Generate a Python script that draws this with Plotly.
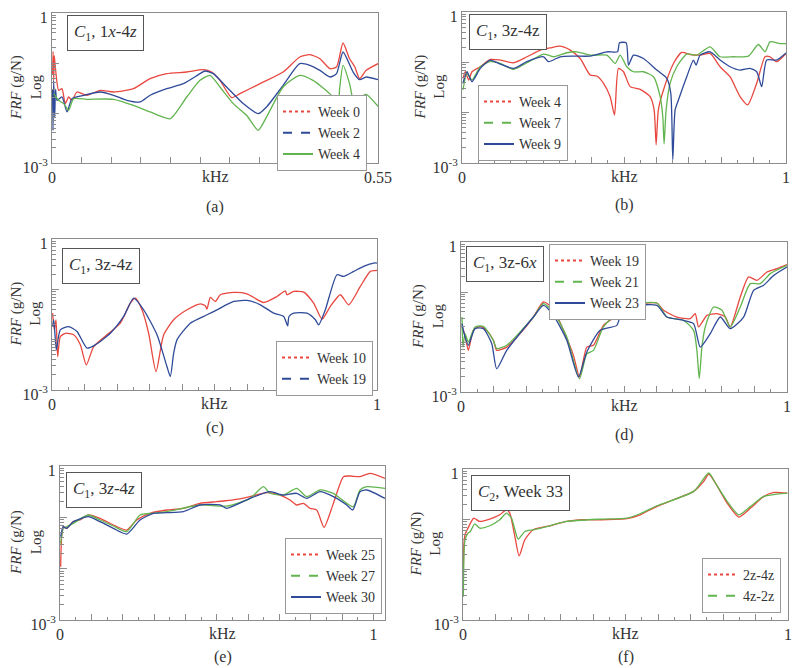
import plotly.graph_objects as go

# ---------------- data (frequency in kHz, FRF in g/N) ----------------
# (a) C1, 1x-4z
a_f_w0 = [0.001, 0.0018, 0.0028, 0.0038, 0.0056, 0.0112, 0.0168, 0.0224, 0.0281, 0.0337, 0.0421, 0.0589, 0.0814,
          0.1038, 0.1375, 0.1655, 0.1936, 0.2273, 0.2554, 0.2694, 0.2834, 0.303, 0.317, 0.351, 0.390, 0.418,
          0.435, 0.452, 0.469, 0.480, 0.491, 0.502, 0.511, 0.519, 0.530, 0.55]
a_v_w0 = [0.06, 0.17, 0.045, 0.14, 0.083, 0.0284, 0.0307, 0.0154, 0.0209, 0.0179, 0.0263, 0.0226, 0.0284,
          0.0263, 0.0307, 0.0486, 0.0612, 0.066, 0.0736, 0.066, 0.045, 0.0203, 0.0244, 0.0386, 0.066, 0.132,
          0.147, 0.122, 0.077, 0.083, 0.251, 0.122, 0.083, 0.0486, 0.0713, 0.097]
a_f_w2 = [0.001, 0.0017, 0.0028, 0.0045, 0.006, 0.0084, 0.0168, 0.0253, 0.0337, 0.0533, 0.0814, 0.1038, 0.1262,
          0.1487, 0.1655, 0.1936, 0.2216, 0.2497, 0.2581, 0.2721, 0.2946, 0.3226, 0.3479, 0.3619, 0.390, 0.418,
          0.435, 0.452, 0.469, 0.480, 0.491, 0.508, 0.519, 0.530, 0.55]
a_v_w2 = [0.03, 0.0045, 0.045, 0.0083, 0.03, 0.0179, 0.0209, 0.0105, 0.0194, 0.0226, 0.0263, 0.0226, 0.0179,
          0.0166, 0.0226, 0.0307, 0.0386, 0.0612, 0.0692, 0.0612, 0.0331, 0.0154, 0.0097, 0.0132, 0.0357, 0.097,
          0.0898, 0.0713, 0.0525, 0.0612, 0.166, 0.066, 0.0464, 0.0525, 0.0464]
a_f_w4 = [0.0028, 0.0112, 0.0196, 0.0281, 0.0365, 0.0589, 0.1038, 0.1375, 0.1655, 0.1992, 0.2273, 0.2497, 0.2666,
          0.2834, 0.3058, 0.3283, 0.3479, 0.3619, 0.390, 0.418, 0.4404, 0.4685, 0.4825, 0.4853, 0.491, 0.502,
          0.513, 0.522, 0.530, 0.55]
a_v_w4 = [0.0244, 0.0179, 0.0154, 0.0113, 0.0194, 0.0188, 0.0188, 0.0142, 0.0105, 0.0077, 0.0209, 0.045, 0.0567,
          0.0331, 0.0154, 0.009, 0.0045, 0.0083, 0.0331, 0.0567, 0.045, 0.0244, 0.0154, 0.0307, 0.0898, 0.0386,
          0.0097, 0.0209, 0.0236, 0.0136]

# (b) C1, 3z-4z
b_f_w4 = [0.003, 0.0103, 0.0206, 0.0308, 0.0565, 0.0874, 0.1182, 0.1593, 0.2004, 0.2415, 0.2724, 0.3032, 0.334,
          0.3649, 0.3957, 0.4162, 0.4368, 0.4573, 0.4707, 0.483, 0.4985, 0.519, 0.5498, 0.5807, 0.593, 0.5992,
          0.606, 0.6218, 0.6526, 0.6783, 0.704, 0.7348, 0.7657, 0.7965, 0.8273, 0.8582, 0.8818, 0.9096, 0.9353,
          0.9507, 0.9712, 1.0]
b_v_w4 = [0.048, 0.065, 0.0445, 0.065, 0.0817, 0.114, 0.111, 0.098, 0.129, 0.175, 0.194, 0.209, 0.175,
          0.119, 0.056, 0.0535, 0.0383, 0.0208, 0.009, 0.0757, 0.065, 0.0329, 0.0291, 0.0208, 0.0114, 0.0023,
          0.0114, 0.0282, 0.095, 0.157, 0.143, 0.139, 0.15, 0.0817, 0.0518, 0.0208, 0.0143, 0.0383, 0.129,
          0.129, 0.103, 0.15]
b_f_w7 = [0.003, 0.0154, 0.0308, 0.0565, 0.0874, 0.1182, 0.1593, 0.2004, 0.2518, 0.2826, 0.3237, 0.3546, 0.3957,
          0.4471, 0.4728, 0.4882, 0.5087, 0.5293, 0.5601, 0.591, 0.6115, 0.6197, 0.6238, 0.63, 0.6423, 0.6629,
          0.6937, 0.7246, 0.7657, 0.7965, 0.8376, 0.8839, 0.9147, 0.9353, 0.9507, 0.9815, 1.0]
b_v_w7 = [0.0282, 0.0603, 0.0445, 0.0817, 0.103, 0.095, 0.0724, 0.098, 0.146, 0.129, 0.155, 0.162, 0.139,
          0.139, 0.095, 0.139, 0.0817, 0.065, 0.065, 0.0518, 0.0208, 0.0084, 0.0024, 0.0114, 0.0383, 0.0817,
          0.146, 0.139, 0.203, 0.129, 0.129, 0.133, 0.226, 0.162, 0.255, 0.236, 0.236]
b_f_w9 = [0.003, 0.0154, 0.0308, 0.0565, 0.0874, 0.1182, 0.1593, 0.2004, 0.2518, 0.2672, 0.3032, 0.3443, 0.3957,
          0.4471, 0.48, 0.4861, 0.5067, 0.5139, 0.5293, 0.5601, 0.6012, 0.6321, 0.6444, 0.6506, 0.6578, 0.668,
          0.6937, 0.7143, 0.7225, 0.7348, 0.7657, 0.7965, 0.8273, 0.8582, 0.889, 0.9096, 0.925, 0.9404, 0.9712, 1.0]
b_v_w9 = [0.0383, 0.065, 0.0413, 0.0757, 0.111, 0.092, 0.0757, 0.103, 0.129, 0.103, 0.129, 0.133, 0.133,
          0.162, 0.162, 0.244, 0.244, 0.088, 0.139, 0.119, 0.0702, 0.048, 0.0243, 0.00117, 0.0114, 0.0179,
          0.0518, 0.111, 0.088, 0.139, 0.162, 0.111, 0.0817, 0.0702, 0.0757, 0.065, 0.0329, 0.111, 0.111, 0.154]

# (c) C1, 3z-4z
c_f_w10 = [0.002, 0.0072, 0.0123, 0.0174, 0.0256, 0.041, 0.0667, 0.0872, 0.1056, 0.1282, 0.1692, 0.2103, 0.241,
           0.2564, 0.2769, 0.2974, 0.32, 0.3436, 0.3744, 0.4154, 0.4564, 0.4718, 0.4769, 0.4872, 0.5026, 0.5179,
           0.559, 0.6, 0.6513, 0.6923, 0.7179, 0.7231, 0.7436, 0.7744, 0.8051, 0.8308, 0.8564, 0.8872, 0.9128,
           0.9487, 0.9795, 1.0]
c_v_w10 = [0.0336, 0.0157, 0.0248, 0.0046, 0.0115, 0.0134, 0.0125, 0.0079, 0.00315, 0.0073, 0.0125, 0.0213, 0.0532,
           0.0668, 0.0392, 0.0134, 0.00232, 0.0125, 0.0248, 0.0392, 0.0516, 0.0471, 0.0404, 0.069, 0.0574, 0.078,
           0.0867, 0.0816, 0.0548, 0.0722, 0.0936, 0.078, 0.0908, 0.088, 0.0532, 0.0255, 0.0457, 0.078, 0.0493,
           0.114, 0.227, 0.238]
c_f_w19 = [0.002, 0.0051, 0.0082, 0.0133, 0.0256, 0.0513, 0.0769, 0.1077, 0.1333, 0.1795, 0.2205, 0.2513, 0.2821,
           0.3231, 0.3538, 0.3641, 0.3744, 0.3846, 0.4256, 0.4769, 0.5077, 0.559, 0.6, 0.641, 0.6821, 0.7128,
           0.7251, 0.7292, 0.7436, 0.7846, 0.8103, 0.8205, 0.841, 0.8769, 0.8974, 0.9282, 0.959, 0.9897, 1.0]
c_v_w19 = [0.0182, 0.0248, 0.0157, 0.0063, 0.0157, 0.0182, 0.0145, 0.0068, 0.0079, 0.0134, 0.0289, 0.0668, 0.0392,
           0.0125, 0.0029, 0.00185, 0.0054, 0.0099, 0.0213, 0.0312, 0.0392, 0.0574, 0.0601, 0.0493, 0.0336, 0.0289,
           0.0188, 0.0289, 0.0336, 0.0336, 0.0248, 0.0197, 0.0392, 0.195, 0.181, 0.227, 0.286, 0.333, 0.333]

# (d) C1, 3z-6x
d_f_w19 = [0.0031, 0.0123, 0.0225, 0.0379, 0.0583, 0.0788, 0.0993, 0.1095, 0.1402, 0.1812, 0.2221, 0.2528, 0.2835,
           0.3142, 0.3449, 0.3634, 0.3859, 0.4063, 0.437, 0.478, 0.5087, 0.5496, 0.6008, 0.6213, 0.6622, 0.7032,
           0.7185, 0.7288, 0.7544, 0.7851, 0.8106, 0.826, 0.8567, 0.8823, 0.9079, 0.9386, 0.9693, 1.0]
d_v_w19 = [0.02, 0.0136, 0.0068, 0.0171, 0.0206, 0.0171, 0.0108, 0.0068, 0.0079, 0.0147, 0.0316, 0.0631, 0.0464,
           0.0171, 0.0054, 0.002, 0.0079, 0.0086, 0.0215, 0.0341, 0.0541, 0.0585, 0.0603, 0.043, 0.0316, 0.0293,
           0.0369, 0.02, 0.0341, 0.0369, 0.0316, 0.02, 0.0794, 0.2, 0.171, 0.251, 0.293, 0.352]
d_f_w21 = [0.0031, 0.006, 0.0123, 0.0225, 0.043, 0.0686, 0.0993, 0.1095, 0.1402, 0.2221, 0.2528, 0.2835, 0.3245,
           0.3634, 0.3859, 0.4063, 0.437, 0.4882, 0.5087, 0.5496, 0.6008, 0.6315, 0.6827, 0.7134, 0.7236, 0.7308,
           0.739, 0.7492, 0.7748, 0.8004, 0.826, 0.8567, 0.8874, 0.9181, 0.9488, 1.0]
d_v_w21 = [0.0316, 0.0079, 0.0147, 0.01, 0.02, 0.0206, 0.0108, 0.0074, 0.0086, 0.0316, 0.0585, 0.0398, 0.0126,
           0.00185, 0.0058, 0.0068, 0.02, 0.043, 0.0541, 0.0603, 0.0603, 0.0316, 0.0271, 0.0171, 0.0068, 0.00185,
           0.0079, 0.02, 0.0501, 0.043, 0.02, 0.0501, 0.147, 0.147, 0.233, 0.341]
d_f_w23 = [0.0031, 0.0123, 0.0225, 0.043, 0.0686, 0.0942, 0.1095, 0.1402, 0.2221, 0.2528, 0.2835, 0.3245, 0.3603,
           0.3859, 0.4268, 0.478, 0.4882, 0.5292, 0.6008, 0.6315, 0.6827, 0.7134, 0.7339, 0.7646, 0.7953, 0.826,
           0.8669, 0.8976, 0.9283, 0.9591, 1.0]
d_v_w23 = [0.0233, 0.0126, 0.0086, 0.0185, 0.0185, 0.0093, 0.0029, 0.0068, 0.0316, 0.0541, 0.0341, 0.0108, 0.002,
           0.0063, 0.0171, 0.0215, 0.0316, 0.0517, 0.0541, 0.0316, 0.0271, 0.0233, 0.0079, 0.0147, 0.0316, 0.0185,
           0.0316, 0.108, 0.136, 0.215, 0.316]

# (e) C1, 3z-4z
e_f_w25 = [0.0021, 0.0053, 0.0106, 0.0213, 0.0426, 0.0638, 0.0904, 0.1277, 0.1702, 0.2128, 0.2447, 0.2872, 0.3404,
           0.3936, 0.4468, 0.5, 0.5532, 0.6064, 0.6596, 0.7021, 0.734, 0.7553, 0.7766, 0.7979, 0.8191, 0.8426,
           0.8723, 0.9043, 0.9255, 0.9574, 0.9894, 1.037]
e_v_w25 = [0.0109, 0.042, 0.0658, 0.061, 0.0824, 0.0887, 0.111, 0.0956, 0.0709, 0.0566, 0.0887, 0.12, 0.139,
           0.15, 0.187, 0.202, 0.218, 0.253, 0.303, 0.272, 0.218, 0.174, 0.187, 0.15, 0.139, 0.0638,
           0.187, 0.62, 0.638, 0.62, 0.72, 0.575]
e_f_w27 = [0.0021, 0.0106, 0.0213, 0.0426, 0.0904, 0.1277, 0.1702, 0.2128, 0.2553, 0.2979, 0.3404, 0.4468, 0.5319,
           0.6064, 0.6489, 0.6702, 0.7128, 0.7553, 0.7872, 0.8298, 0.8723, 0.9149, 0.9362, 0.9574, 0.9787, 1.037]
e_v_w27 = [0.0312, 0.061, 0.0658, 0.0764, 0.111, 0.0887, 0.0678, 0.0526, 0.111, 0.12, 0.129, 0.174, 0.166,
           0.234, 0.396, 0.294, 0.272, 0.367, 0.253, 0.341, 0.294, 0.187, 0.161, 0.341, 0.396, 0.367]
e_f_w30 = [0.0021, 0.0106, 0.0213, 0.0426, 0.0904, 0.1277, 0.1702, 0.2128, 0.2553, 0.2979, 0.3404, 0.3936, 0.4468,
           0.5106, 0.5319, 0.6064, 0.6702, 0.7128, 0.7553, 0.7872, 0.8298, 0.8723, 0.9149, 0.934, 0.9574, 0.9787, 1.037]
e_v_w30 = [0.042, 0.0658, 0.061, 0.0824, 0.103, 0.0824, 0.061, 0.0473, 0.0887, 0.12, 0.123, 0.129, 0.174,
           0.174, 0.15, 0.234, 0.316, 0.272, 0.294, 0.234, 0.316, 0.253, 0.174, 0.139, 0.316, 0.341, 0.234]

# (f) C2, Week 33
f_f_24 = [0.001, 0.0031, 0.0062, 0.0154, 0.0257, 0.0329, 0.0514, 0.0823, 0.1132, 0.1337, 0.144, 0.1595, 0.1728,
          0.1903, 0.216, 0.2675, 0.3189, 0.3704, 0.4218, 0.5041, 0.5453, 0.5967, 0.6481, 0.7099, 0.7407, 0.7562,
          0.7767, 0.8128, 0.8488, 0.8848, 0.9259, 0.9568, 0.9979]
f_v_24 = [0.0085, 0.0336, 0.0493, 0.0669, 0.0908, 0.106, 0.0908, 0.101, 0.123, 0.155, 0.133, 0.0457, 0.0188,
          0.0392, 0.062, 0.0745, 0.0908, 0.098, 0.098, 0.103, 0.123, 0.181, 0.245, 0.359, 0.568, 0.795,
          0.526, 0.21, 0.111, 0.167, 0.286, 0.343, 0.333]
f_f_42 = [0.001, 0.0031, 0.0062, 0.0154, 0.0226, 0.036, 0.0514, 0.0823, 0.1132, 0.1337, 0.1492, 0.1698, 0.1903,
          0.216, 0.2675, 0.3189, 0.4218, 0.5041, 0.5453, 0.5967, 0.7099, 0.7562, 0.7767, 0.8128, 0.8488, 0.8848,
          0.9259, 0.9979]
f_v_42 = [0.0029, 0.0213, 0.0392, 0.0532, 0.0574, 0.0816, 0.0669, 0.0745, 0.098, 0.133, 0.106, 0.0404, 0.0574,
          0.062, 0.0745, 0.0908, 0.101, 0.106, 0.129, 0.186, 0.359, 0.833, 0.526, 0.227, 0.123, 0.181,
          0.286, 0.333]

# tick labels
x_ticks_a = [0, 0.05, 0.1, 0.15, 0.2, 0.25, 0.3, 0.35, 0.4, 0.45, 0.5, 0.55]
x_ticks_1 = [0, 0.1, 0.2, 0.3, 0.4, 0.5, 0.6, 0.7, 0.8, 0.9, 1.0]
x_minor_1 = [0.05, 0.15, 0.25, 0.35, 0.45, 0.55, 0.65, 0.75, 0.85, 0.95]
y_ticks = [1e-3, 1e-2, 1e-1, 1]
y_ticktext = ["10<sup>-3</sup>", "", "", "1"]
y_minor = [m * d for d in (1e-3, 1e-2, 1e-1) for m in range(2, 10)]

# ---------------- styling ----------------
RED = "#e8483f"
BLUE = "#2f4a98"
GREEN = "#62b44f"
AX = "#8c8c8c"
TXT = "#333333"
SERIF = "Liberation Serif"
OFF = 8                      # page body margin offset
W, H = 800 - OFF, 668 - OFF


def px_x(p):
    return (p - OFF) / W


def px_y(p):
    return 1 - (p - OFF) / H


fig = go.Figure()

panels = [
    dict(k=1, x=(52, 378), y=(13, 163), xmax=0.55, end="0.55", box="<i>C</i><sub>1</sub>, 1<i>x</i>-4<i>z</i>",
         boxpos=(67, 15), leg=(277, 95), yts=-26, cap="(a)", capy=44,
         curves=[(a_f_w0, a_v_w0, RED, "Week 0", "dot"), (a_f_w2, a_v_w2, BLUE, "Week 2", "dash"),
                 (a_f_w4, a_v_w4, GREEN, "Week 4", "solid")]),
    dict(k=2, x=(462, 786), y=(12, 163), xmax=1.0, end="1", box="<i>C</i><sub>1</sub>, 3z-4z",
         boxpos=(469, 14), leg=(478, 85), yts=-33, cap="(b)", capy=42,
         curves=[(b_f_w4, b_v_w4, RED, "Week 4", "dot"), (b_f_w7, b_v_w7, GREEN, "Week 7", "dash"),
                 (b_f_w9, b_v_w9, BLUE, "Week 9", "solid")]),
    dict(k=3, x=(52, 377), y=(239, 390), xmax=1.0, end="1", box="<i>C</i><sub>1</sub>, 3z-4z",
         boxpos=(62, 248), leg=(276, 341), yts=-26, cap="(c)", capy=38,
         curves=[(c_f_w10, c_v_w10, RED, "Week 10", "dot"), (c_f_w19, c_v_w19, BLUE, "Week 19", "dash")]),
    dict(k=4, x=(461, 787), y=(242, 392), xmax=1.0, end="1", box="<i>C</i><sub>1</sub>, 3z-6<i>x</i>",
         boxpos=(466, 246), leg=(549, 244), yts=-33, cap="(d)", capy=43,
         curves=[(d_f_w19, d_v_w19, RED, "Week 19", "dot"), (d_f_w21, d_v_w21, GREEN, "Week 21", "dash"),
                 (d_f_w23, d_v_w23, BLUE, "Week 23", "solid")]),
    dict(k=5, x=(60, 385), y=(466, 620), xmax=1.037, end="1", box="<i>C</i><sub>1</sub>, 3<i>z</i>-4<i>z</i>",
         boxpos=(66, 472), leg=(285, 538), yts=-34, cap="(e)", capy=37,
         curves=[(e_f_w25, e_v_w25, RED, "Week 25", "dot"), (e_f_w27, e_v_w27, GREEN, "Week 27", "dash"),
                 (e_f_w30, e_v_w30, BLUE, "Week 30", "solid")]),
    dict(k=6, x=(463, 788), y=(469, 620), xmax=1.0, end="1", box="<i>C</i><sub>2</sub>, Week 33",
         boxpos=(471, 475), leg=(702, 558), yts=-38, cap="(f)", capy=37,
         curves=[(f_f_24, f_v_24, RED, "2z-4z", "dot"), (f_f_42, f_v_42, GREEN, "4z-2z", "dash")]),
]

annotations = []
layout_axes = {}
legends = {}

for p in panels:
    k = p["k"]
    xa = "x" if k == 1 else f"x{k}"
    ya = "y" if k == 1 else f"y{k}"
    lg = "legend" if k == 1 else f"legend{k}"

    for fx, fv, col, name, dash in p["curves"]:
        fig.add_trace(go.Scatter(x=fx, y=fv, mode="lines", xaxis=xa, yaxis=ya,
                                 line=dict(color=col, width=1.3, shape="spline", smoothing=0.6),
                                 showlegend=False, hoverinfo="skip"))
    for fx, fv, col, name, dash in p["curves"]:
        fig.add_trace(go.Scatter(x=[None], y=[None], mode="lines", xaxis=xa, yaxis=ya, name=name,
                                 line=dict(color=col, width=2, dash=dash), legend=lg, showlegend=True))

    if p["xmax"] < 0.6:
        tv = x_ticks_a
        minor = dict(ticks="")
    else:
        tv = x_ticks_1
        minor = dict(tickmode="array", tickvals=x_minor_1, ticks="inside", ticklen=3, tickcolor=AX, tickwidth=1)
    tt = ["0"] + [""] * (len(tv) - 2) + [p["end"]]

    xkey = "xaxis" if k == 1 else f"xaxis{k}"
    ykey = "yaxis" if k == 1 else f"yaxis{k}"
    layout_axes[xkey] = dict(domain=[px_x(p["x"][0]), px_x(p["x"][1])], range=[0, p["xmax"]], anchor=ya,
                             automargin=False, ticklabeloverflow="allow",
                             showline=True, linecolor=AX, linewidth=1, mirror=True, showgrid=False, zeroline=False,
                             tickmode="array", tickvals=tv, ticktext=tt, ticks="inside", ticklen=6,
                             tickcolor=AX, tickwidth=1, minor=minor,
                             tickfont=dict(family=SERIF, size=16, color=TXT))
    layout_axes[ykey] = dict(domain=[px_y(p["y"][1]), px_y(p["y"][0])], type="log", range=[-3, 0], anchor=xa,
                             automargin=False, ticklabeloverflow="allow", ticklabelshift=4,
                             showline=True, linecolor=AX, linewidth=1, mirror=True, showgrid=False, zeroline=False,
                             tickmode="array", tickvals=y_ticks, ticktext=y_ticktext, ticks="inside", ticklen=7,
                             tickcolor=AX, tickwidth=1,
                             minor=dict(tickmode="array", tickvals=y_minor, ticks="inside", ticklen=4,
                                        tickcolor=AX, tickwidth=1),
                             tickfont=dict(family=SERIF, size=16, color=TXT))

    xd = "x domain" if k == 1 else f"x{k} domain"
    yd = "y domain" if k == 1 else f"y{k} domain"
    annotations.append(dict(text="kHz", xref=xd, yref=yd, x=0.5, y=0, xanchor="center", yanchor="top",
                            yshift=-3, showarrow=False, font=dict(family=SERIF, size=16, color=TXT)))
    annotations.append(dict(text="<i>FRF</i> (g/N)<br>Log", xref=xd, yref=yd, x=0, y=0.5, xanchor="center",
                            yanchor="middle", xshift=p["yts"], textangle=-90, showarrow=False,
                            font=dict(family=SERIF, size=15, color=TXT)))
    annotations.append(dict(text=p["cap"], xref=xd, yref=yd, x=0.5, y=0, xanchor="center", yanchor="middle",
                            yshift=-p["capy"], showarrow=False, font=dict(family=SERIF, size=16, color=TXT)))
    annotations.append(dict(text=p["box"], xref="paper", yref="paper", x=px_x(p["boxpos"][0]),
                            y=px_y(p["boxpos"][1]), xanchor="left", yanchor="top", showarrow=False,
                            bordercolor="#555555", borderwidth=1, borderpad=6, bgcolor="white",
                            font=dict(family=SERIF, size=17, color=TXT)))

    legends[lg] = dict(x=px_x(p["leg"][0]), y=px_y(p["leg"][1]), xanchor="left", yanchor="top",
                       xref="paper", yref="paper", bgcolor="white", bordercolor="#999999", borderwidth=1,
                       font=dict(family=SERIF, size=14, color=TXT), itemwidth=30, tracegroupgap=0)

fig.update_layout(width=W, height=H, margin=dict(l=0, r=0, t=0, b=0, autoexpand=False), paper_bgcolor="white",
                  plot_bgcolor="white", annotations=annotations, **layout_axes, **legends)

fig.write_html("out.html")
